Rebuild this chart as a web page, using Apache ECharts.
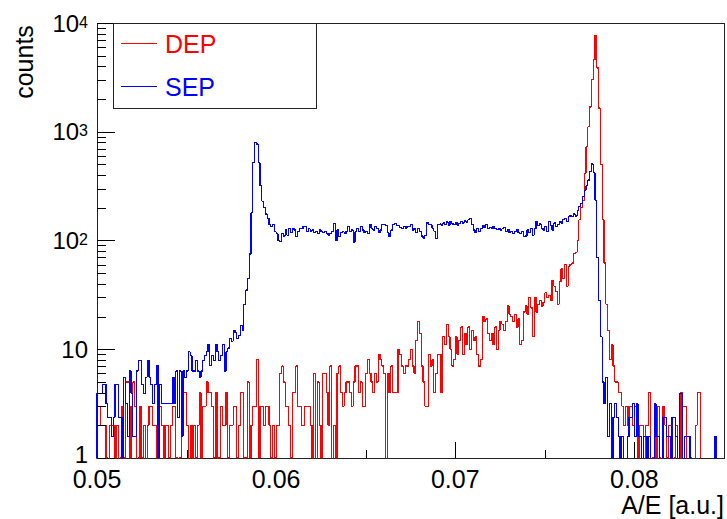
<!DOCTYPE html>
<html>
<head>
<meta charset="utf-8">
<script src="https://cdn.jsdelivr.net/npm/echarts@6/dist/echarts.min.js"></script>
<style>
html, body { margin: 0; padding: 0; background: #ffffff; }
#chart { width: 727px; height: 519px; }
#chart svg path, #chart svg line, #chart svg rect, #chart svg polyline { shape-rendering: crispEdges; }
</style>
</head>
<body>
<div id="chart"></div>
<script>
// ---------- data ----------
const X_MIN = 0.05;
const X_MAX = 0.085;
const BIN_WIDTH = 0.0001;
const Y_MIN = 1;
const Y_MAX = 10000;
const seriesNames = ['DEP', 'SEP'];
const xAxisTitle = 'A/E [a.u.]';
const yAxisTitle = 'counts';
const xTickLabels = ['0.05', '0.06', '0.07', '0.08'];
const yTickExponents = [0, 1, 2, 3, 4];
const xMinorTicks = [0.055, 0.065, 0.075];
const yMinorTicks = [2, 3, 4, 5, 6, 7, 8, 9,
  20, 30, 40, 50, 60, 70, 80, 90,
  200, 300, 400, 500, 600, 700, 800, 900,
  2000, 3000, 4000, 5000, 6000, 7000, 8000, 9000];

// DEP counts per bin (bin width 0.0001, from 0.050 to 0.085)
const depCounts = [
  3,3,2,2,2,1,0,2,2,2,
  1,2,0,1,3,1,5,5,1,3,
  5,3,0,1,3,1,2,0,2,3,
  3,2,2,0,1,3,2,0,2,2,
  1,2,3,3,1,0,1,4,4,4,
  2,0,2,1,2,1,2,4,1,3,
  3,5,4,4,3,1,4,1,1,3,
  2,2,4,1,2,2,3,3,1,2,
  4,4,1,1,5,1,2,3,3,8,
  1,3,3,2,3,3,2,1,2,1,
  2,2,6,7,5,3,3,2,1,4,
  4,7,3,3,2,2,3,3,3,2,
  1,6,0,5,2,1,6,6,4,2,
  7,0,2,0,6,7,4,3,4,5,
  5,4,3,5,7,7,4,5,3,3,
  6,8,6,5,4,6,5,9,8,7,
  6,0,6,4,7,4,4,4,10,9,
  7,6,7,7,8,10,7,6,12,18,
  14,7,5,3,3,9,7,8,4,6,
  9,9,4,13,11,17,13,10,7,8,
  13,9,12,16,9,14,11,16,10,15,
  12,13,9,7,8,20,18,19,14,12,
  14,11,16,10,15,18,17,15,18,25,
  21,20,18,21,16,19,11,12,22,25,
  21,30,24,13,30,22,26,28,25,27,
  33,30,31,28,43,38,34,26,42,55,
  45,60,38,58,60,62,76,78,100,155,
  200,235,415,730,1110,1690,3000,4600,7700,3850,
  1650,500,155,62,26,15,8,11,7,5,
  5,4,4,3,2,3,2,3,3,2,
  3,3,1,2,2,0,2,2,4,0,
  1,3,0,3,1,0,3,2,1,2,
  2,0,1,2,0,0,4,3,3,0,
  0,1,0,0,2,4,4,0,0,0,
  0,0,0,0,0,0,0,0,0,0
];

// SEP counts per bin (scaled histogram)
const sepCounts = [
  3.95,3.95,3.95,4.74,4.74,3.16,2.37,2.37,1.58,2.37,
  4.74,4.74,2.37,2.37,0,5.53,3.16,1.58,6.32,3.95,
  1.58,1.58,6.32,7.9,7.9,4.74,3.95,5.53,7.9,5.53,
  4.74,3.16,4.74,7.11,0,4.74,3.16,3.16,3.16,3.16,
  3.16,3.16,5.53,3.16,6.32,2.37,6.32,1.58,6.32,5.53,
  6.32,9.48,8.69,6.32,6.32,7.9,6.32,5.53,6.32,7.9,
  8.69,9.48,11.06,7.11,8.69,7.9,11.06,9.48,7.9,8.69,
  11.06,6.32,9.48,10.27,12.6,11.85,15,14.2,12.6,13.4,
  16.6,15,26,35,45,75,180,520,790,770,
  520,320,230,200,175,160,140,135,140,120,
  115,100,98,115,110,125,112,128,118,130,
  125,108,120,130,128,135,134,120,128,122,
  125,118,120,116,125,120,118,122,116,112,
  116,120,144,100,125,108,118,120,116,122,
  134,120,125,97,120,130,120,134,125,118,
  122,116,140,130,125,135,130,118,125,140,
  142,138,118,108,125,140,144,138,136,132,
  128,135,130,134,135,140,125,130,118,128,
  122,110,105,112,145,140,138,130,122,104,
  140,142,138,145,140,148,138,150,142,140,
  146,138,144,150,145,152,148,155,160,140,
  125,118,130,122,128,138,132,140,128,132,
  128,134,130,126,130,125,128,132,120,126,
  118,122,116,120,126,118,116,120,108,110,
  125,118,130,112,128,150,138,142,130,125,
  135,120,150,138,125,145,135,140,150,145,
  155,160,150,165,170,165,175,168,190,205,
  220,255,290,320,360,430,505,420,235,70,
  28,13,5,3.16,5.53,1.58,3.16,0,2.37,3.16,
  2.37,1.58,0,1.58,0,0,1.58,2.37,2.37,3.16,
  1.58,3.16,1.58,1.58,0,1.58,1.58,0,1.58,0,
  0,3.16,1.58,1.58,0,0,2.37,2.37,1.58,1.58,
  0,2.37,2.37,1.58,0,3.95,3.95,0,1.58,1.58,
  1.58,0,0,0,0,0,0,0,0,0,
  0,0,0,0,0,1.58,0,0,0,0
];

// ---------- build ----------
const FONT = '"Liberation Sans", Arial, Helvetica, sans-serif';
const BELOW_AXIS = 0.1; // empty bins fall below the log axis minimum and get clipped

function stepPoints(counts) {
  const pts = [[X_MIN, BELOW_AXIS]];
  counts.forEach(function (c, i) {
    const edge = +(X_MIN + (i + 1) * BIN_WIDTH).toFixed(5);
    pts.push([edge, c > 0 ? c : BELOW_AXIS]);
  });
  return pts;
}

const chart = echarts.init(document.getElementById('chart'), null, { renderer: 'svg' });

const option = {
  animation: false,
  backgroundColor: '#ffffff',
  grid: {
    left: 97, right: 3, top: 23, bottom: 61,
    show: true, borderColor: '#222222', borderWidth: 1,
    backgroundColor: 'transparent',
    containLabel: false, outerBoundsMode: 'none'
  },
  legend: {
    left: 113, top: 23,
    orient: 'vertical',
    selectedMode: false,
    data: [
      { name: seriesNames[0], textStyle: { color: '#ff0000' } },
      { name: seriesNames[1], textStyle: { color: '#0000ff' } }
    ],
    icon: 'rect',
    itemWidth: 36, itemHeight: 1, itemGap: 18,
    padding: [8, 100, 9, 8],
    backgroundColor: '#ffffff',
    borderColor: '#222222', borderWidth: 1, borderRadius: 0,
    textStyle: { fontSize: 25, fontFamily: FONT, padding: [0, 0, 0, 3] }
  },
  xAxis: {
    type: 'value',
    min: X_MIN, max: X_MAX, interval: 0.01,
    axisLine: { show: false },
    splitLine: { show: false },
    axisTick: { show: true, inside: true, length: 16, lineStyle: { color: '#000000', width: 1 } },
    axisLabel: {
      show: true, margin: 11, fontSize: 25, lineHeight: 20, fontFamily: FONT, color: '#000000',
      showMinLabel: true, showMaxLabel: false,
      formatter: function (v) {
        const s = v.toFixed(2);
        return xTickLabels.indexOf(s) >= 0 ? s : '';
      }
    }
  },
  yAxis: {
    type: 'log', logBase: 10,
    min: Y_MIN, max: Y_MAX,
    axisLine: { show: false },
    splitLine: { show: false },
    axisTick: { show: true, inside: true, length: 18, lineStyle: { color: '#000000', width: 1 } },
    axisLabel: {
      show: true, margin: 9, fontSize: 24, lineHeight: 18, fontFamily: FONT, color: '#000000',
      formatter: function (v) {
        const e = Math.round(Math.log10(v));
        if (yTickExponents.indexOf(e) < 0) return '';
        if (e === 0) return '{one|1}';
        if (e === 1) return '10';
        return '10{sup|' + e + '}';
      },
      rich: {
        one: { fontSize: 24, fontFamily: FONT, color: '#000000', lineHeight: 18, padding: [0, 0, 8, 0] },
        sup: { fontSize: 16, fontFamily: FONT, color: '#000000', verticalAlign: 'top', lineHeight: 14 }
      }
    }
  },
  graphic: [
    {
      type: 'text', x: 24, y: 62, rotation: Math.PI / 2, silent: true,
      style: {
        text: yAxisTitle, fill: '#000000',
        font: '25px ' + FONT,
        align: 'center', verticalAlign: 'middle',
        textAlign: 'center', textVerticalAlign: 'middle'
      }
    },
    {
      type: 'text', x: 724, y: 505, silent: true,
      style: {
        text: xAxisTitle, fill: '#000000',
        font: '25px ' + FONT,
        align: 'right', verticalAlign: 'middle',
        textAlign: 'right', textVerticalAlign: 'middle'
      }
    }
  ],
  series: [
    {
      name: seriesNames[0], type: 'line', step: 'start',
      data: stepPoints(depCounts),
      showSymbol: false, symbol: 'none', clip: true,
      lineStyle: { color: '#ff0000', width: 1.2 },
      itemStyle: { color: '#ff0000' },
      z: 2
    },
    {
      name: seriesNames[1], type: 'line', step: 'start',
      data: stepPoints(sepCounts),
      showSymbol: false, symbol: 'none', clip: true,
      lineStyle: { color: '#0000ff', width: 1.2 },
      itemStyle: { color: '#0000ff' },
      z: 3
    },
    {
      name: 'yMinorTicks', type: 'custom', coordinateSystem: 'cartesian2d',
      silent: true, clip: false, z: 4,
      data: yMinorTicks.map(function (v) { return [X_MIN, v]; }),
      renderItem: function (params, api) {
        const p = api.coord([api.value(0), api.value(1)]);
        const y = Math.round(p[1]) + 0.5;
        return { type: 'line', shape: { x1: p[0], y1: y, x2: p[0] + 9, y2: y },
          style: { stroke: '#000000', lineWidth: 1 } };
      }
    },
    {
      name: 'xMinorTicks', type: 'custom', coordinateSystem: 'cartesian2d',
      silent: true, clip: false, z: 4,
      data: xMinorTicks.map(function (v) { return [v, Y_MIN]; }),
      renderItem: function (params, api) {
        const p = api.coord([api.value(0), api.value(1)]);
        const x = Math.round(p[0]) + 0.5;
        return { type: 'line', shape: { x1: x, y1: p[1], x2: x, y2: p[1] - 8 },
          style: { stroke: '#000000', lineWidth: 1 } };
      }
    }
  ]
};

chart.setOption(option);
</script>
</body>
</html>
